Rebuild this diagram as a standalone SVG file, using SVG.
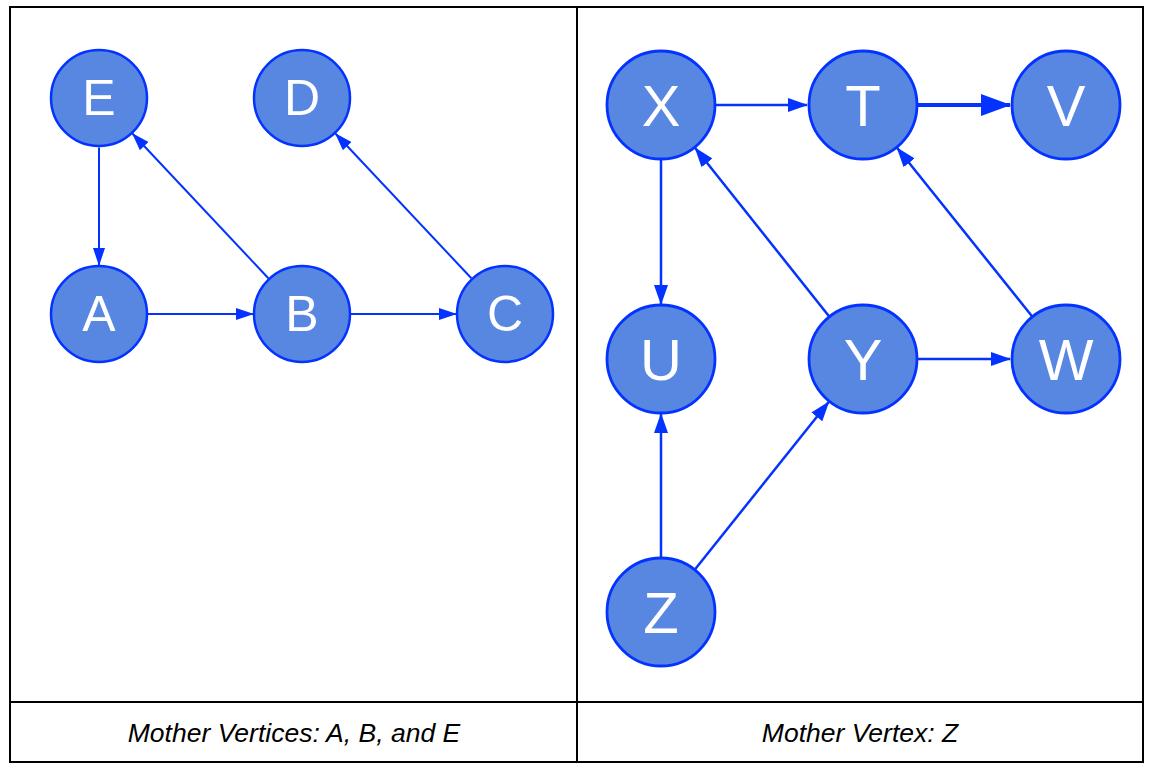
<svg xmlns="http://www.w3.org/2000/svg" width="1152" height="774" viewBox="0 0 1152 774">
<defs>
<style>
.frame{fill:none;stroke:#000;stroke-width:2}
.node circle{fill:#5787e0;stroke:#0433ff;stroke-width:2.5}
.big circle{stroke-width:2.8}
.node text{fill:#fff;font-family:"Liberation Sans",Arial,sans-serif;text-anchor:middle;dominant-baseline:central}
.small text{font-size:50px}
.big text{font-size:58px}
.edges line{stroke:#0433ff;fill:none}
.e1{stroke-width:2}
.e2{stroke-width:2.5}
.e3{stroke-width:4}
.cap{font-family:"Liberation Sans",Arial,sans-serif;font-style:italic;font-size:26.5px;fill:#000;text-anchor:middle}
</style>
<marker id="a1" markerUnits="userSpaceOnUse" markerWidth="18" markerHeight="12" refX="17" refY="6" orient="auto"><path d="M0,0 L18,6 L0,12 z" fill="#0433ff"/></marker>
<marker id="a2" markerUnits="userSpaceOnUse" markerWidth="20" markerHeight="14" refX="19" refY="7" orient="auto"><path d="M0,0 L20,7 L0,14 z" fill="#0433ff"/></marker>
<marker id="a3" markerUnits="userSpaceOnUse" markerWidth="30" markerHeight="22" refX="29" refY="11" orient="auto"><path d="M0,0 L30,11 L0,22 z" fill="#0433ff"/></marker>
</defs>
<rect width="1152" height="774" fill="#fff"/>
<g id="frame">
<rect class="frame" x="10" y="7" width="1133" height="755"/>
<line class="frame" x1="577" y1="7" x2="577" y2="762"/>
<line class="frame" x1="10" y1="702" x2="1143" y2="702"/>
</g>
<g id="connectors" class="edges">
<line class="e1" x1="99" y1="147.5" x2="99" y2="265" marker-end="url(#a1)"/>
<line class="e1" x1="268.4" y1="278.3" x2="132.6" y2="133.7" marker-end="url(#a1)"/>
<line class="e1" x1="471.4" y1="278.3" x2="335.6" y2="133.7" marker-end="url(#a1)"/>
<line class="e1" x1="148" y1="314" x2="253" y2="314" marker-end="url(#a1)"/>
<line class="e1" x1="351" y1="314" x2="456" y2="314" marker-end="url(#a1)"/>
<line class="e2" x1="716" y1="105" x2="807" y2="105" marker-end="url(#a2)"/>
<line class="e3" x1="918" y1="105" x2="1010" y2="105" marker-end="url(#a3)"/>
<line class="e2" x1="661" y1="160" x2="661" y2="304" marker-end="url(#a2)"/>
<line class="e2" x1="661" y1="557" x2="661" y2="414" marker-end="url(#a2)"/>
<line class="e2" x1="828.8" y1="316" x2="695.2" y2="148" marker-end="url(#a2)"/>
<line class="e2" x1="1031.8" y1="316" x2="897.2" y2="148" marker-end="url(#a2)"/>
<line class="e2" x1="918" y1="359" x2="1010" y2="359" marker-end="url(#a2)"/>
<line class="e2" x1="695.3" y1="569" x2="828.7" y2="402" marker-end="url(#a2)"/>
</g>
<g id="node-E" class="node small"><circle cx="99" cy="98" r="48"/><text x="99" y="98">E</text></g>
<g id="node-D" class="node small"><circle cx="302" cy="98" r="48"/><text x="302" y="98">D</text></g>
<g id="node-A" class="node small"><circle cx="99" cy="314" r="48"/><text x="99" y="314">A</text></g>
<g id="node-B" class="node small"><circle cx="302" cy="314" r="48"/><text x="302" y="314">B</text></g>
<g id="node-C" class="node small"><circle cx="505" cy="314" r="48"/><text x="505" y="314">C</text></g>
<g id="node-X" class="node big"><circle cx="661" cy="105" r="54"/><text x="661" y="105">X</text></g>
<g id="node-T" class="node big"><circle cx="863" cy="105" r="54"/><text x="863" y="105">T</text></g>
<g id="node-V" class="node big"><circle cx="1066" cy="105" r="54"/><text x="1066" y="105">V</text></g>
<g id="node-U" class="node big"><circle cx="661" cy="359" r="54"/><text x="661" y="359">U</text></g>
<g id="node-Y" class="node big"><circle cx="863" cy="359" r="54"/><text x="863" y="359">Y</text></g>
<g id="node-W" class="node big"><circle cx="1066" cy="359" r="54"/><text x="1066" y="359">W</text></g>
<g id="node-Z" class="node big"><circle cx="661" cy="612" r="54"/><text x="661" y="612">Z</text></g>
<g id="captions">
<text class="cap" x="294" y="742">Mother Vertices: A, B, and E</text>
<text class="cap" x="860" y="742">Mother Vertex: Z</text>
</g>
</svg>
